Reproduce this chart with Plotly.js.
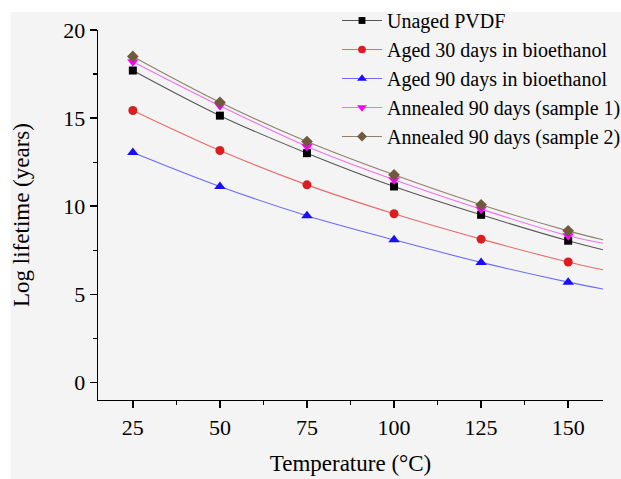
<!DOCTYPE html>
<html>
<head>
<meta charset="utf-8">
<script src="https://cdn.plot.ly/plotly-3.0.1.min.js"></script>
<style>
html,body{margin:0;padding:0;background:#ffffff;}
#chart{width:621px;height:479px;}
</style>
</head>
<body>
<div id="chart"></div>
<script>
// Temperature (°C); last value is the end of the fitted curves
const temps = [25, 50, 75, 100, 125, 150, 160];
const unagedPVDF = [17.70, 15.14, 13.01, 11.12, 9.51, 8.04, 7.53];
const aged30 = [15.43, 13.16, 11.21, 9.57, 8.13, 6.83, 6.39];
const aged90 = [13.05, 11.12, 9.46, 8.09, 6.81, 5.69, 5.30];
const annealed1 = [18.20, 15.70, 13.39, 11.50, 9.83, 8.32, 7.90];
const annealed2 = [18.50, 15.90, 13.67, 11.78, 10.08, 8.60, 8.09];
const seriesNames = ["Unaged PVDF", "Aged 30 days in bioethanol", "Aged 90 days in bioethanol",
  "Annealed 90 days (sample 1)", "Annealed 90 days (sample 2)"];
const xTicks = [25, 50, 75, 100, 125, 150];
const yTicks = [0, 5, 10, 15, 20];

const styles = [
  {sym: "square", size: 8, mc: "#000000", lc: "#555555"},
  {sym: "circle", size: 9, mc: "#d81e1e", lc: "#e86a6a"},
  {sym: "triangle-up", size: 10, mc: "#1a0dff", lc: "#6a6aff"},
  {sym: "triangle-down", size: 10, mc: "#ff00ff", lc: "#f070f0"},
  {sym: "diamond", size: 9, mc: "#6e5a3c", lc: "#8e806c"}
];
const allY = [unagedPVDF, aged30, aged90, annealed1, annealed2];

const traces = allY.map((ys, i) => {
  const st = styles[i];
  const sizes = temps.map(t => xTicks.includes(t) ? st.size : 0);
  return {
    x: temps, y: ys, name: seriesNames[i], type: "scatter", mode: "lines+markers",
    line: {color: st.lc, width: 1.1, shape: "spline", smoothing: 1},
    marker: {symbol: st.sym, size: sizes, color: st.mc, opacity: 1, line: {width: 0}},
    cliponaxis: false
  };
});

const font = "'Liberation Serif', 'Times New Roman', serif";
const L = 97.5, R = 18.3, T = 30, B = 79;
const pw = 621 - L - R, ph = 479 - T - B;

const layout = {
  width: 621, height: 479,
  paper_bgcolor: "#f4f4f4", plot_bgcolor: "#f4f4f4",
  margin: {l: L, r: R, t: T, b: B, pad: 0, autoexpand: false},
  font: {family: font, size: 22, color: "#000"},
  showlegend: true,
  legend: {
    xref: "container", yref: "container", x: 337 / 621, y: 1 - 1 / 479,
    xanchor: "left", yanchor: "top", bgcolor: "rgba(0,0,0,0)",
    font: {family: font, size: 20, color: "#000"}, tracegroupgap: 0, itemwidth: 40
  },
  xaxis: {
    range: [15, 160], tickvals: xTicks, ticktext: xTicks.map(String),
    showgrid: false, zeroline: false, showline: true, linecolor: "#000", linewidth: 1.4,
    ticks: "outside", ticklen: 7, tickwidth: 1.4, tickcolor: "#000",
    minor: {ticks: "outside", dtick: 12.5, tick0: 0, ticklen: 4, tickwidth: 1.2, tickcolor: "#000", showgrid: false},
    tickfont: {family: font, size: 22},
    title: {text: "Temperature (°C)", font: {family: font, size: 23}, standoff: 16}
  },
  yaxis: {
    range: [-1, 20], tickvals: yTicks, ticktext: yTicks.map(String),
    showgrid: false, zeroline: false, showline: true, linecolor: "#000", linewidth: 1.4,
    ticks: "outside", ticklen: 7, tickwidth: 1.4, tickcolor: "#000",
    minor: {ticks: "outside", dtick: 2.5, tick0: 0, ticklen: 4, tickwidth: 1.2, tickcolor: "#000", showgrid: false},
    tickfont: {family: font, size: 22},
    title: {text: "Log lifetime (years)", font: {family: font, size: 23}, standoff: 27}
  },
  shapes: [
    {type: "rect", xref: "paper", yref: "paper", layer: "below",
     x0: -L / pw - 0.01, x1: 1 + R / pw + 0.01, y0: 1 + (T - 12) / ph, y1: 1 + T / ph + 0.01,
     fillcolor: "#ffffff", line: {width: 0}},
    {type: "rect", xref: "paper", yref: "paper", layer: "below",
     x0: -L / pw - 0.01, x1: -(L - 10) / pw, y0: -B / ph - 0.01, y1: 1 + T / ph + 0.01,
     fillcolor: "#ffffff", line: {width: 0}}
  ]
};

Plotly.newPlot("chart", traces, layout, {displayModeBar: false, staticPlot: true});
</script>
</body>
</html>
